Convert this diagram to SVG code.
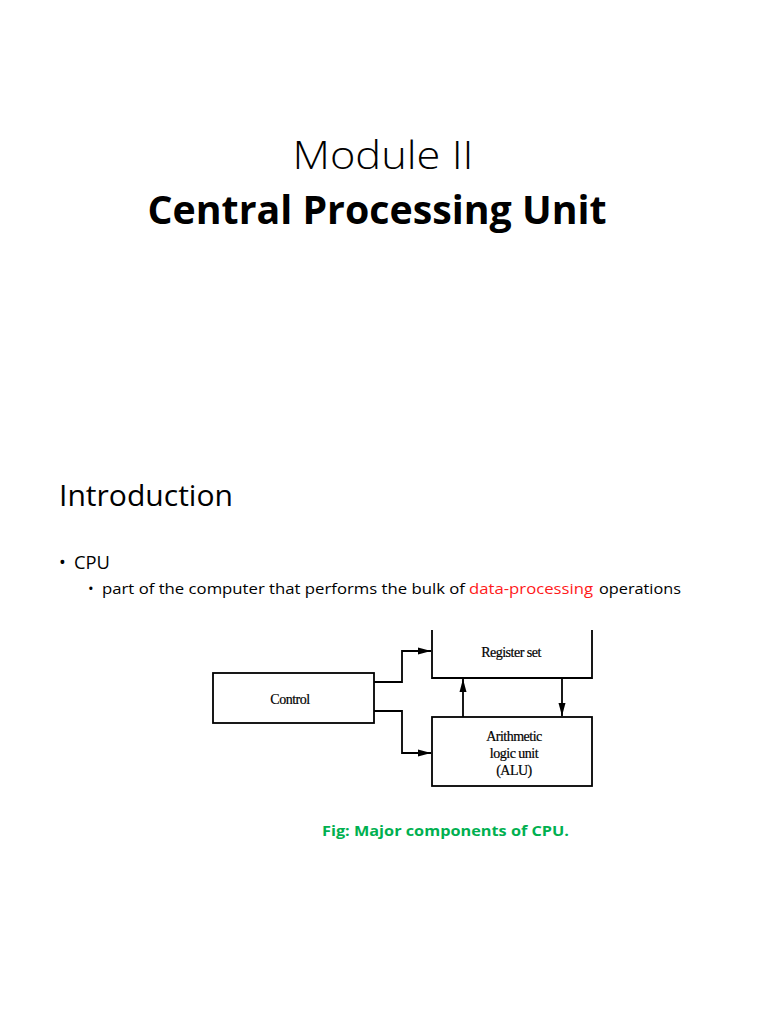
<svg xmlns="http://www.w3.org/2000/svg" width="768" height="1024" viewBox="0 0 768 1024">
<defs>
<style>
.sans{font-family:"Open Sans","Liberation Sans",sans-serif;fill:#000}
.serif{font-family:"Liberation Serif",serif;font-size:14px;fill:#000;text-anchor:middle;letter-spacing:-0.5px;stroke:#000;stroke-width:0.2}
.box{fill:#fff;stroke:#000;stroke-width:1.8}
.wire{fill:none;stroke:#000;stroke-width:1.8}
</style>
<marker id="ah" viewBox="0 0 13 8" refX="13" refY="4" markerWidth="13" markerHeight="8" markerUnits="userSpaceOnUse" orient="auto">
<path d="M0,0.5 L13,4 L0,7.5 Z" fill="#000"/>
</marker>
</defs>
<rect width="768" height="1024" fill="#fff"/>
<text class="sans" x="383" y="169" font-size="38" font-weight="300" text-anchor="middle" textLength="181" lengthAdjust="spacingAndGlyphs">Module II</text>
<text class="sans" x="377" y="224" font-size="39" font-weight="700" text-anchor="middle" textLength="459" lengthAdjust="spacingAndGlyphs">Central Processing Unit</text>
<text class="sans" x="59" y="506" font-size="30" textLength="174" lengthAdjust="spacingAndGlyphs">Introduction</text>
<text class="sans" x="59" y="569" font-size="18">•</text>
<text class="sans" x="74" y="569" font-size="18" textLength="36" lengthAdjust="spacingAndGlyphs">CPU</text>
<text class="sans" x="88" y="594" font-size="15">•</text>
<text class="sans" x="102" y="594" font-size="15" textLength="363" lengthAdjust="spacingAndGlyphs">part of the computer that performs the bulk of</text>
<text class="sans" x="469" y="594" font-size="15" style="fill:#ff1a1a" textLength="124" lengthAdjust="spacingAndGlyphs">data-processing</text>
<text class="sans" x="599" y="594" font-size="15" textLength="82" lengthAdjust="spacingAndGlyphs">operations</text>

<g id="register-set">
<path class="wire" d="M432,630 L432,678 L592,678 L592,630"/>
<text class="serif" x="511" y="657">Register set</text>
</g>
<g id="control">
<rect class="box" x="213" y="673" width="161" height="50"/>
<text class="serif" x="290" y="704">Control</text>
</g>
<g id="alu">
<rect class="box" x="432" y="717" width="160" height="69"/>
<text class="serif" x="514" y="741">Arithmetic</text>
<text class="serif" x="514" y="758">logic unit</text>
<text class="serif" x="514" y="775">(ALU)</text>
</g>
<g id="connectors">
<path class="wire" d="M374,682 L402,682 L402,651 L431,651" marker-end="url(#ah)"/>
<path class="wire" d="M374,711 L402,711 L402,753 L431,753" marker-end="url(#ah)"/>
<path class="wire" d="M463,717 L463,679" marker-end="url(#ah)"/>
<path class="wire" d="M562,678 L562,716" marker-end="url(#ah)"/>
</g>
<text class="sans" x="322" y="836" font-size="15" font-weight="700" style="fill:#00b050" textLength="247" lengthAdjust="spacingAndGlyphs">Fig: Major components of CPU.</text>
</svg>
